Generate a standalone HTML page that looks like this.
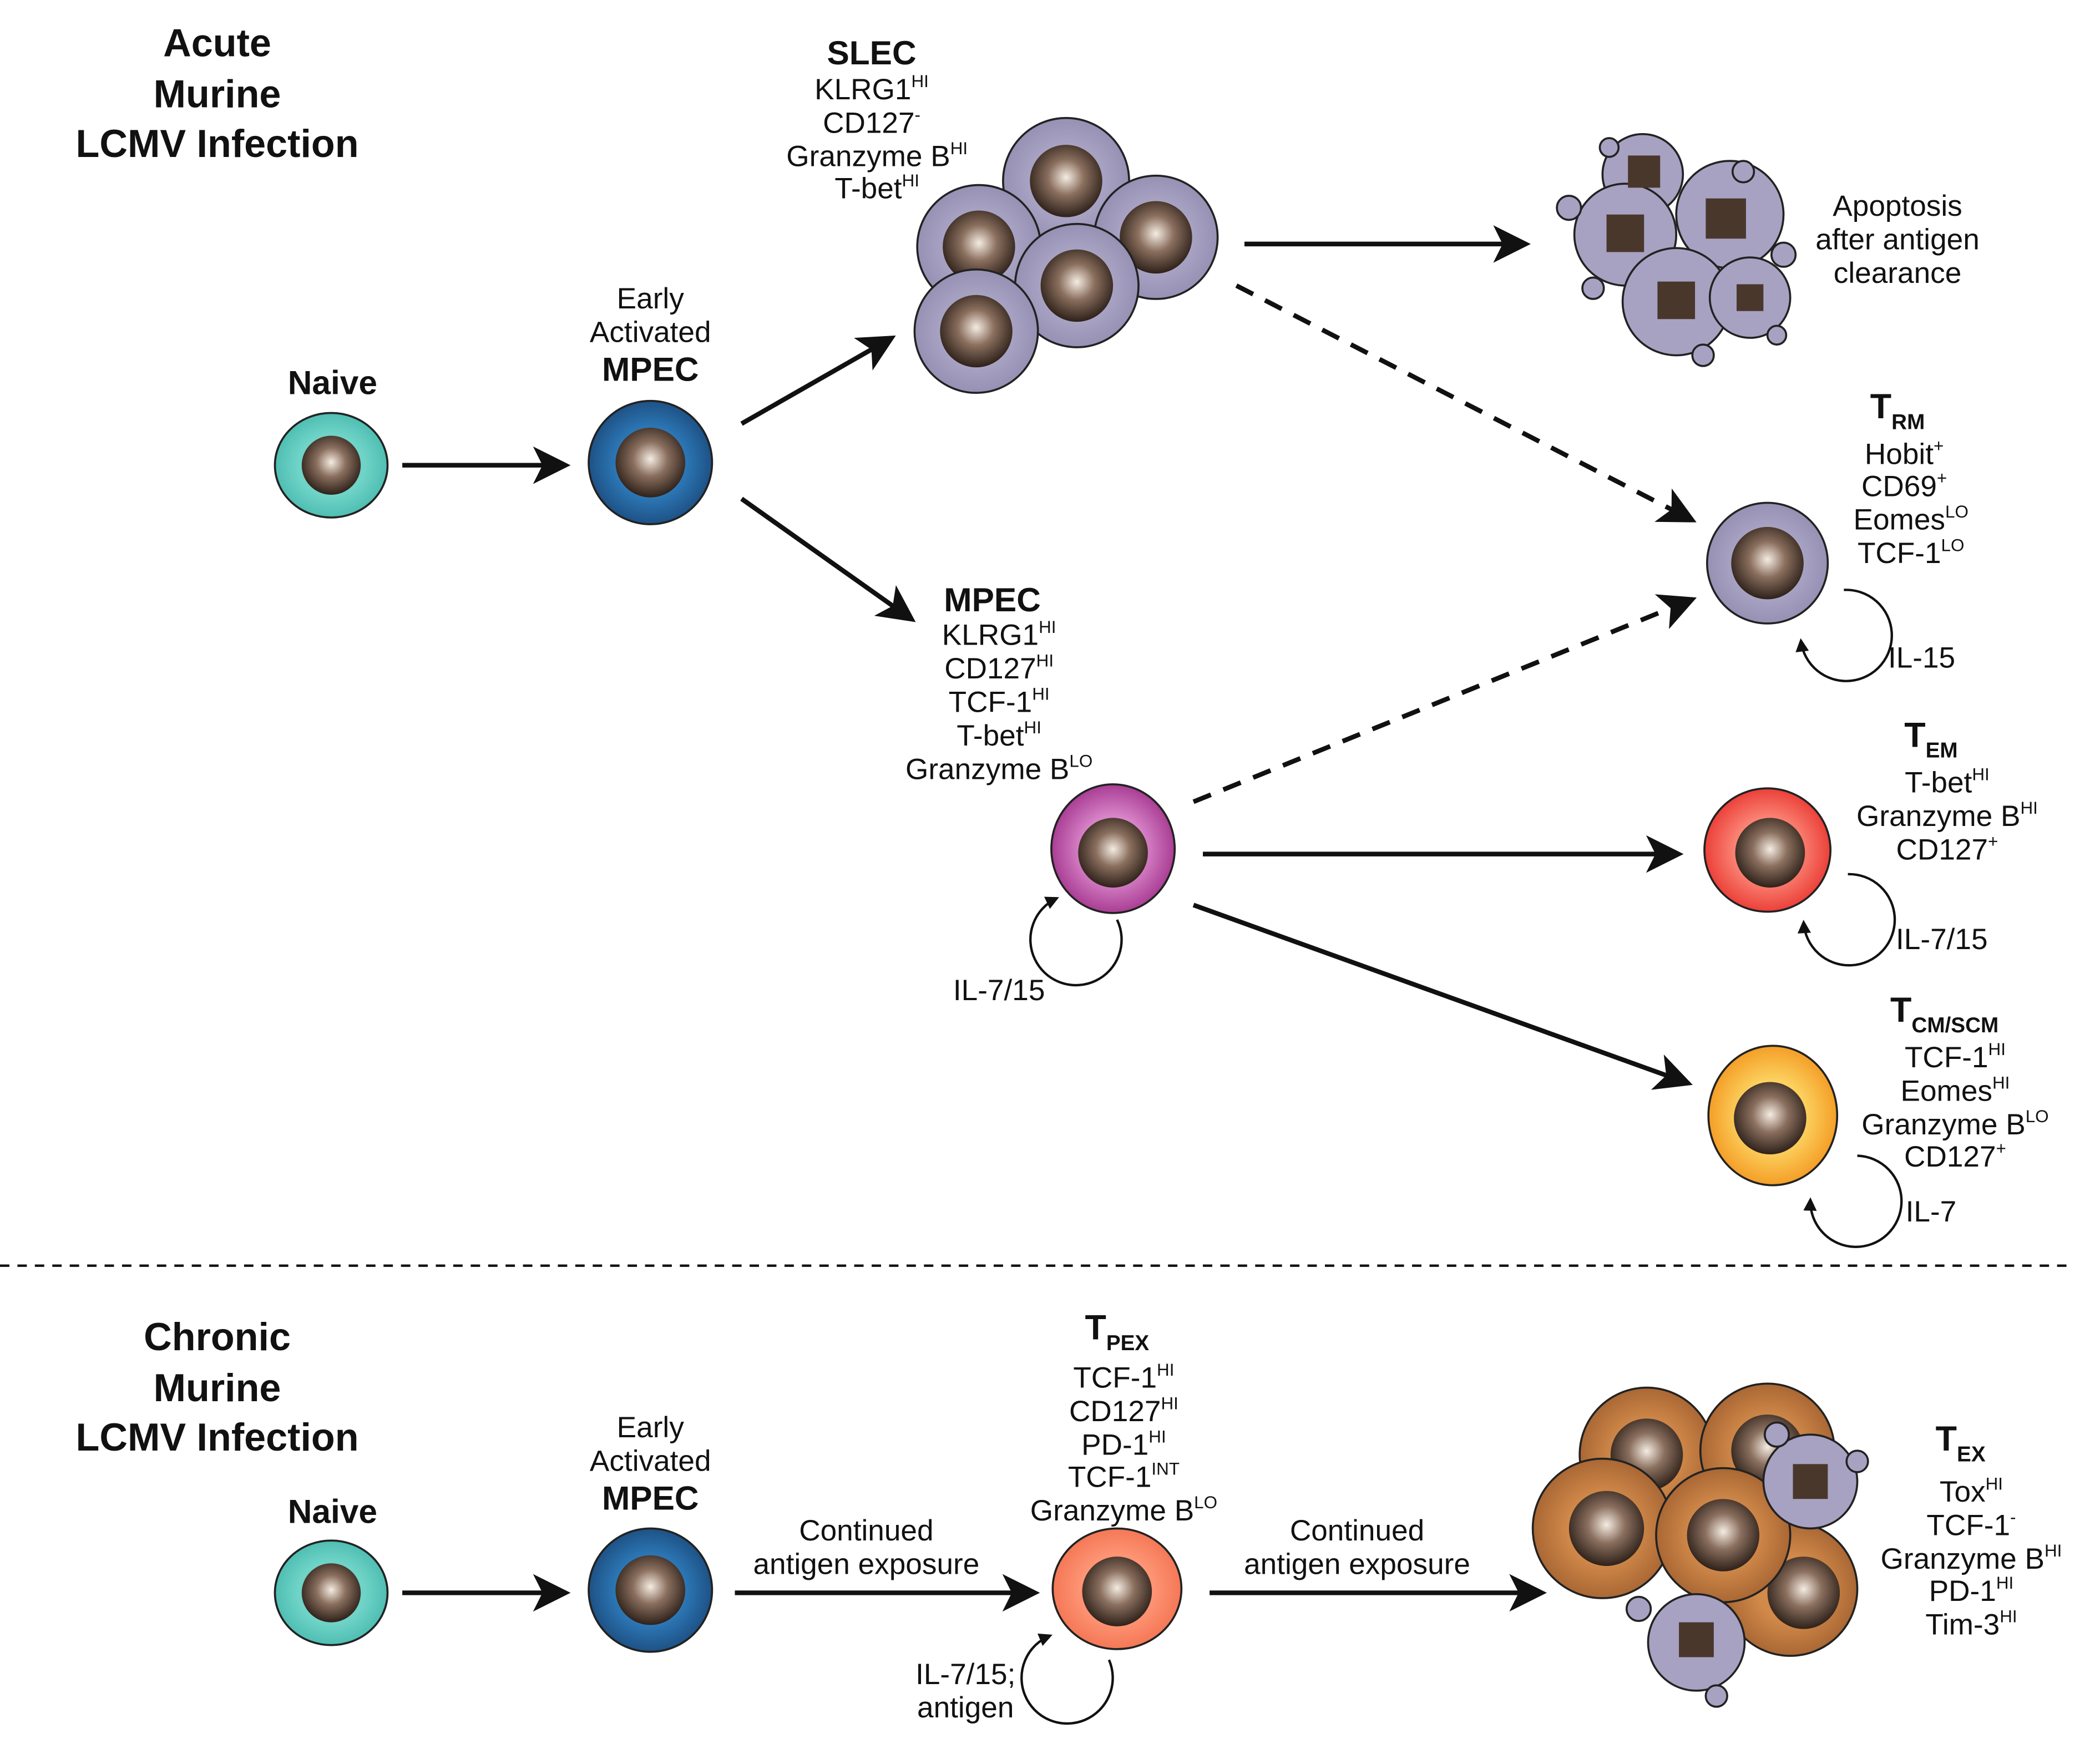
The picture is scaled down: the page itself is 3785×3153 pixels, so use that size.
<!DOCTYPE html>
<html><head><meta charset="utf-8"><style>html,body{margin:0;padding:0;background:#fff}svg{display:block}text{font-family:"Liberation Sans",sans-serif;fill:#111}</style></head><body>
<svg width="3785" height="3153" viewBox="0 0 1566 1304.5" preserveAspectRatio="none" xmlns="http://www.w3.org/2000/svg">
<defs>
<radialGradient id="nuc" cx="0.5" cy="0.45" r="0.55"><stop offset="0" stop-color="#f5ece2"/><stop offset="0.45" stop-color="#8a6f5e"/><stop offset="1" stop-color="#2e211a"/></radialGradient>
<radialGradient id="teal" r="0.6"><stop offset="0.5" stop-color="#6fd3c7"/><stop offset="1" stop-color="#3fb3a8"/></radialGradient>
<radialGradient id="blue" r="0.6"><stop offset="0.4" stop-color="#2f7fc0"/><stop offset="1" stop-color="#17406e"/></radialGradient>
<radialGradient id="lav" r="0.6"><stop offset="0.5" stop-color="#a7a2c2"/><stop offset="1" stop-color="#8e88ad"/></radialGradient>
<radialGradient id="mag" r="0.6"><stop offset="0.3" stop-color="#e69ad8"/><stop offset="1" stop-color="#96207e"/></radialGradient>
<radialGradient id="red" r="0.6"><stop offset="0.3" stop-color="#ff9a88"/><stop offset="1" stop-color="#e52420"/></radialGradient>
<radialGradient id="org" r="0.6"><stop offset="0.3" stop-color="#ffe070"/><stop offset="1" stop-color="#f08a10"/></radialGradient>
<radialGradient id="cor" r="0.6"><stop offset="0.4" stop-color="#ff9a7a"/><stop offset="1" stop-color="#f06a48"/></radialGradient>
<radialGradient id="brn" r="0.6"><stop offset="0.4" stop-color="#d28a4a"/><stop offset="1" stop-color="#9a5a2c"/></radialGradient>
<marker id="ah" markerWidth="8" markerHeight="8" refX="7" refY="4" orient="auto" markerUnits="strokeWidth"><path d="M0,0 L8,4 L0,8 L2,4 z" fill="#111"/></marker>
<marker id="sh" markerWidth="10" markerHeight="10" refX="8" refY="5" orient="auto" markerUnits="userSpaceOnUse"><path d="M0,0 L10,5 L0,10 z" fill="#111"/></marker>
</defs>
<g stroke="#222" stroke-width="1.5">
<ellipse cx="247" cy="347" rx="42" ry="39" fill="url(#teal)"/><circle cx="247" cy="347" r="22" fill="url(#nuc)" stroke="none"/>
<ellipse cx="247" cy="1188" rx="42" ry="39" fill="url(#teal)"/><circle cx="247" cy="1188" r="22" fill="url(#nuc)" stroke="none"/>
<ellipse cx="485" cy="345" rx="46" ry="46" fill="url(#blue)"/><circle cx="485" cy="345" r="26" fill="url(#nuc)" stroke="none"/>
<ellipse cx="485" cy="1186" rx="46" ry="46" fill="url(#blue)"/><circle cx="485" cy="1186" r="26" fill="url(#nuc)" stroke="none"/>
<circle cx="795" cy="135" r="47" fill="url(#lav)"/><circle cx="795" cy="135" r="27" fill="url(#nuc)" stroke="none"/>
<circle cx="862" cy="177" r="46" fill="url(#lav)"/><circle cx="862" cy="177" r="27" fill="url(#nuc)" stroke="none"/>
<circle cx="730" cy="184" r="46" fill="url(#lav)"/><circle cx="730" cy="184" r="27" fill="url(#nuc)" stroke="none"/>
<circle cx="803" cy="213" r="46" fill="url(#lav)"/><circle cx="803" cy="213" r="27" fill="url(#nuc)" stroke="none"/>
<circle cx="728" cy="247" r="46" fill="url(#lav)"/><circle cx="728" cy="247" r="27" fill="url(#nuc)" stroke="none"/>
<circle cx="1225" cy="130" r="30" fill="#a7a2c2"/><circle cx="1290" cy="160" r="40" fill="#a7a2c2"/><circle cx="1212" cy="175" r="38" fill="#a7a2c2"/><circle cx="1250" cy="225" r="40" fill="#a7a2c2"/><circle cx="1305" cy="222" r="30" fill="#a7a2c2"/>
<circle cx="1170" cy="155" r="9" fill="#a7a2c2"/><circle cx="1330" cy="190" r="9" fill="#a7a2c2"/><circle cx="1300" cy="128" r="8" fill="#a7a2c2"/><circle cx="1200" cy="110" r="7" fill="#a7a2c2"/><circle cx="1270" cy="265" r="8" fill="#a7a2c2"/><circle cx="1188" cy="215" r="8" fill="#a7a2c2"/><circle cx="1325" cy="250" r="7" fill="#a7a2c2"/>
<rect x="1214" y="116" width="24" height="24" fill="#4a372c" stroke="none"/><rect x="1272" y="148" width="30" height="30" fill="#4a372c" stroke="none"/><rect x="1198" y="160" width="28" height="28" fill="#4a372c" stroke="none"/><rect x="1236" y="210" width="28" height="28" fill="#4a372c" stroke="none"/><rect x="1295" y="212" width="20" height="20" fill="#4a372c" stroke="none"/>
<ellipse cx="1318" cy="420" rx="45" ry="45" fill="url(#lav)"/><circle cx="1318" cy="420" r="27" fill="url(#nuc)" stroke="none"/>
<ellipse cx="830" cy="633" rx="46" ry="48" fill="url(#mag)"/><circle cx="830" cy="636" r="26" fill="url(#nuc)" stroke="none"/>
<ellipse cx="1318" cy="634" rx="47" ry="46" fill="url(#red)"/><circle cx="1320" cy="636" r="26" fill="url(#nuc)" stroke="none"/>
<ellipse cx="1322" cy="832" rx="48" ry="52" fill="url(#org)"/><circle cx="1320" cy="834" r="27" fill="url(#nuc)" stroke="none"/>
<ellipse cx="833" cy="1185" rx="48" ry="45" fill="url(#cor)"/><circle cx="833" cy="1187" r="26" fill="url(#nuc)" stroke="none"/>
<circle cx="1228" cy="1085" r="50" fill="url(#brn)"/><circle cx="1228" cy="1085" r="27" fill="url(#nuc)" stroke="none"/>
<circle cx="1318" cy="1082" r="50" fill="url(#brn)"/><circle cx="1318" cy="1082" r="27" fill="url(#nuc)" stroke="none"/>
<circle cx="1335" cy="1185" r="50" fill="url(#brn)"/><circle cx="1345" cy="1188" r="27" fill="url(#nuc)" stroke="none"/>
<circle cx="1195" cy="1140" r="52" fill="url(#brn)"/><circle cx="1198" cy="1140" r="28" fill="url(#nuc)" stroke="none"/>
<circle cx="1285" cy="1145" r="50" fill="url(#brn)"/><circle cx="1285" cy="1145" r="27" fill="url(#nuc)" stroke="none"/>
<circle cx="1350" cy="1105" r="35" fill="#a7a2c2"/><rect x="1337" y="1092" width="26" height="26" fill="#4a372c" stroke="none"/>
<circle cx="1265" cy="1225" r="36" fill="#a7a2c2"/><rect x="1252" y="1210" width="26" height="26" fill="#4a372c" stroke="none"/>
<circle cx="1385" cy="1090" r="8" fill="#a7a2c2"/><circle cx="1325" cy="1070" r="9" fill="#a7a2c2"/><circle cx="1222" cy="1200" r="9" fill="#a7a2c2"/><circle cx="1280" cy="1265" r="8" fill="#a7a2c2"/>
</g>
<g stroke="#111" stroke-width="3.5" fill="none">
<line x1="300" y1="347" x2="422" y2="347" marker-end="url(#ah)"/>
<line x1="300" y1="1188" x2="422" y2="1188" marker-end="url(#ah)"/>
<line x1="553" y1="316" x2="665" y2="252" marker-end="url(#ah)"/>
<line x1="553" y1="372" x2="680" y2="462" marker-end="url(#ah)"/>
<line x1="928" y1="182" x2="1138" y2="182" marker-end="url(#ah)"/>
<line x1="897" y1="637" x2="1252" y2="637" marker-end="url(#ah)"/>
<line x1="890" y1="675" x2="1259" y2="808" marker-end="url(#ah)"/>
<line x1="548" y1="1188" x2="772" y2="1188" marker-end="url(#ah)"/>
<line x1="902" y1="1188" x2="1150" y2="1188" marker-end="url(#ah)"/>
<line x1="922" y1="213" x2="1262" y2="388" stroke-dasharray="14,10" marker-end="url(#ah)"/>
<line x1="890" y1="598" x2="1262" y2="447" stroke-dasharray="14,10" marker-end="url(#ah)"/>
<line x1="0" y1="944" x2="1545" y2="944" stroke-width="1.8" stroke-dasharray="7,6"/>
</g>
<g stroke="#111" stroke-width="1.8" fill="none">
<path d="M1375,440 A34,34 0 1 1 1343,478" marker-end="url(#sh)"/>
<path d="M1378,652 A34,34 0 1 1 1345,688" marker-end="url(#sh)"/>
<path d="M1385,862 A34,34 0 1 1 1350,895" marker-end="url(#sh)"/>
<path d="M833,686 A34,34 0 1 1 788,670" marker-end="url(#sh)"/>
<path d="M827,1238 A34,34 0 1 1 783,1220" marker-end="url(#sh)"/>
</g>
<g font-size="22" text-anchor="middle">
<g font-weight="bold" font-size="29"><text x="162" y="42">Acute</text><text x="162" y="80">Murine</text><text x="162" y="117">LCMV Infection</text>
<text x="162" y="1007">Chronic</text><text x="162" y="1045">Murine</text><text x="162" y="1082">LCMV Infection</text></g>
<g font-weight="bold" font-size="25"><text x="248" y="294">Naive</text><text x="485" y="284">MPEC</text><text x="650" y="48">SLEC</text><text x="740" y="456">MPEC</text>
<text x="248" y="1136">Naive</text><text x="485" y="1126">MPEC</text></g>
<text x="485" y="230">Early</text><text x="485" y="255">Activated</text>
<text x="485" y="1072">Early</text><text x="485" y="1097">Activated</text>
<text x="650" y="74">KLRG1<tspan font-size="13" dy="-9">HI</tspan></text>
<text x="650" y="99">CD127<tspan font-size="13" dy="-9">-</tspan></text>
<text x="654" y="124">Granzyme B<tspan font-size="13" dy="-9">HI</tspan></text>
<text x="654" y="148">T-bet<tspan font-size="13" dy="-9">HI</tspan></text>
<text x="1415" y="161">Apoptosis</text><text x="1415" y="186">after antigen</text><text x="1415" y="211">clearance</text>
<text x="745" y="481">KLRG1<tspan font-size="13" dy="-9">HI</tspan></text>
<text x="745" y="506">CD127<tspan font-size="13" dy="-9">HI</tspan></text>
<text x="745" y="531">TCF-1<tspan font-size="13" dy="-9">HI</tspan></text>
<text x="745" y="556">T-bet<tspan font-size="13" dy="-9">HI</tspan></text>
<text x="745" y="581">Granzyme B<tspan font-size="13" dy="-9">LO</tspan></text>
<text x="745" y="746">IL-7/15</text>
<text x="1415" y="312" font-weight="bold" font-size="26">T<tspan font-size="16" dy="8">RM</tspan></text>
<text x="1420" y="346">Hobit<tspan font-size="13" dy="-9">+</tspan></text>
<text x="1420" y="370">CD69<tspan font-size="13" dy="-9">+</tspan></text>
<text x="1425" y="395">Eomes<tspan font-size="13" dy="-9">LO</tspan></text>
<text x="1425" y="420">TCF-1<tspan font-size="13" dy="-9">LO</tspan></text>
<text x="1433" y="498">IL-15</text>
<text x="1440" y="557" font-weight="bold" font-size="26">T<tspan font-size="16" dy="8">EM</tspan></text>
<text x="1452" y="591">T-bet<tspan font-size="13" dy="-9">HI</tspan></text>
<text x="1452" y="616">Granzyme B<tspan font-size="13" dy="-9">HI</tspan></text>
<text x="1452" y="641">CD127<tspan font-size="13" dy="-9">+</tspan></text>
<text x="1448" y="708">IL-7/15</text>
<text x="1450" y="762" font-weight="bold" font-size="26">T<tspan font-size="16" dy="8">CM/SCM</tspan></text>
<text x="1458" y="796">TCF-1<tspan font-size="13" dy="-9">HI</tspan></text>
<text x="1458" y="821">Eomes<tspan font-size="13" dy="-9">HI</tspan></text>
<text x="1458" y="846">Granzyme B<tspan font-size="13" dy="-9">LO</tspan></text>
<text x="1458" y="870">CD127<tspan font-size="13" dy="-9">+</tspan></text>
<text x="1440" y="911">IL-7</text>
<text x="646" y="1149">Continued</text><text x="646" y="1174">antigen exposure</text>
<text x="1012" y="1149">Continued</text><text x="1012" y="1174">antigen exposure</text>
<text x="833" y="999" font-weight="bold" font-size="26">T<tspan font-size="16" dy="8">PEX</tspan></text>
<text x="838" y="1035">TCF-1<tspan font-size="13" dy="-9">HI</tspan></text>
<text x="838" y="1060">CD127<tspan font-size="13" dy="-9">HI</tspan></text>
<text x="838" y="1085">PD-1<tspan font-size="13" dy="-9">HI</tspan></text>
<text x="838" y="1109">TCF-1<tspan font-size="13" dy="-9">INT</tspan></text>
<text x="838" y="1134">Granzyme B<tspan font-size="13" dy="-9">LO</tspan></text>
<text x="720" y="1256">IL-7/15;</text><text x="720" y="1281">antigen</text>
<text x="1462" y="1082" font-weight="bold" font-size="26">T<tspan font-size="16" dy="8">EX</tspan></text>
<text x="1470" y="1120">Tox<tspan font-size="13" dy="-9">HI</tspan></text>
<text x="1470" y="1145">TCF-1<tspan font-size="13" dy="-9">-</tspan></text>
<text x="1470" y="1170">Granzyme B<tspan font-size="13" dy="-9">HI</tspan></text>
<text x="1470" y="1194">PD-1<tspan font-size="13" dy="-9">HI</tspan></text>
<text x="1470" y="1219">Tim-3<tspan font-size="13" dy="-9">HI</tspan></text>
</g>
</svg>
</body></html>
